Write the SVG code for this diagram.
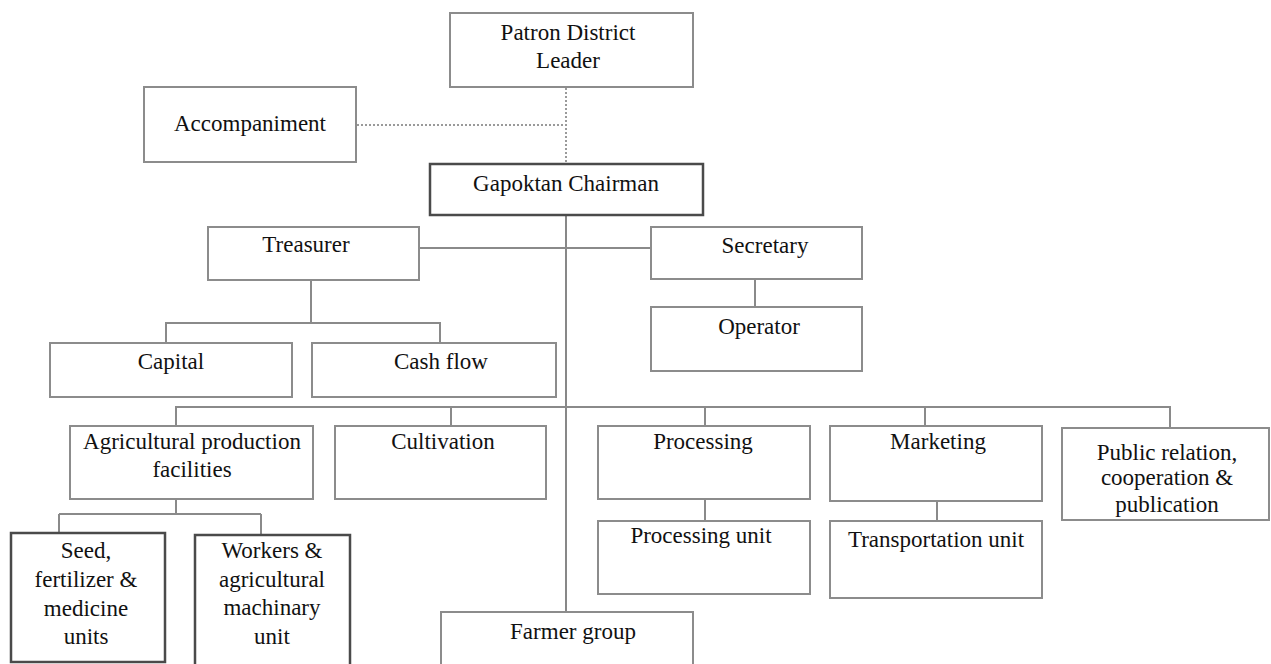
<svg xmlns="http://www.w3.org/2000/svg" width="1271" height="664" viewBox="0 0 1271 664">
<style>
.b{fill:#fff;stroke:#8c8c8c;stroke-width:2}
.k{fill:#fff;stroke:#4a4a4a;stroke-width:2.5}
.t{font-family:"Liberation Serif","Times New Roman",serif;font-size:23px;fill:#111;text-anchor:middle}
.c{fill:none;stroke:#8a8a8a;stroke-width:2}
.d{fill:none;stroke:#9a9a9a;stroke-width:2;stroke-dasharray:2 2}
.m{fill:none;stroke:#6a6a6a;stroke-width:1.6}
</style>
<rect width="1271" height="664" fill="#fff"/>
<g id="connectors">
<path class="d" d="M566 88V163M357 125H566"/>
<path class="m" d="M566 215V612"/>
<path class="c" d="M419 248H651"/>
<path class="c" d="M311 280V323M166 343V323H440V343"/>
<path class="c" d="M755 279V307"/>
<path class="c" d="M176 426V407H1170V428M451 407V426M705 407V426M925 407V426"/>
<path class="c" d="M705 499V521M937 501V521"/>
<path class="c" d="M176 499V514M59 514H261M59 514V533M261 514V535"/>
</g>
<g id="patron"><rect class="b" x="450" y="13" width="243" height="74"/><text class="t" x="568" y="40">Patron District</text><text class="t" x="568" y="68">Leader</text></g>
<g id="accompaniment"><rect class="b" x="144" y="87" width="212" height="75"/><text class="t" x="250" y="131">Accompaniment</text></g>
<g id="chairman"><rect class="k" x="430" y="164" width="273" height="51"/><text class="t" x="566" y="191">Gapoktan Chairman</text></g>
<g id="treasurer"><rect class="b" x="208" y="227" width="211" height="53"/><text class="t" x="306" y="252">Treasurer</text></g>
<g id="secretary"><rect class="b" x="651" y="227" width="211" height="52"/><text class="t" x="765" y="253">Secretary</text></g>
<g id="operator"><rect class="b" x="651" y="307" width="211" height="64"/><text class="t" x="759" y="334">Operator</text></g>
<g id="capital"><rect class="b" x="50" y="343" width="242" height="54"/><text class="t" x="171" y="369">Capital</text></g>
<g id="cashflow"><rect class="b" x="312" y="343" width="244" height="54"/><text class="t" x="441" y="369">Cash flow</text></g>
<g id="agri"><rect class="b" x="70" y="426" width="243" height="73"/><text class="t" x="192" y="449">Agricultural production</text><text class="t" x="192" y="477">facilities</text></g>
<g id="cultivation"><rect class="b" x="335" y="426" width="211" height="73"/><text class="t" x="443" y="449">Cultivation</text></g>
<g id="processing"><rect class="b" x="598" y="426" width="212" height="73"/><text class="t" x="703" y="449">Processing</text></g>
<g id="marketing"><rect class="b" x="830" y="426" width="212" height="75"/><text class="t" x="938" y="449">Marketing</text></g>
<g id="public"><rect class="b" x="1062" y="428" width="207" height="92"/><text class="t" x="1167" y="460">Public relation,</text><text class="t" x="1167" y="485">cooperation &amp;</text><text class="t" x="1167" y="512">publication</text></g>
<g id="processingunit"><rect class="b" x="598" y="521" width="212" height="73"/><text class="t" x="701" y="543">Processing unit</text></g>
<g id="transport"><rect class="b" x="830" y="521" width="212" height="77"/><text class="t" x="936" y="547">Transportation unit</text></g>
<g id="seed"><rect class="k" x="11" y="533" width="154" height="129"/><text class="t" x="86" y="558">Seed,</text><text class="t" x="86" y="587">fertilizer &amp;</text><text class="t" x="86" y="616">medicine</text><text class="t" x="86" y="644">units</text></g>
<g id="workers"><rect class="k" x="195" y="535" width="155" height="132"/><text class="t" x="272" y="558">Workers &amp;</text><text class="t" x="272" y="587">agricultural</text><text class="t" x="272" y="615">machinary</text><text class="t" x="272" y="644">unit</text></g>
<g id="farmer"><rect class="b" x="441" y="612" width="252" height="60"/><text class="t" x="573" y="639">Farmer group</text></g>
</svg>
